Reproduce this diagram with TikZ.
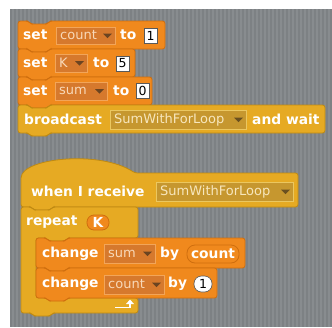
\documentclass[tikz,border=0pt]{standalone}
\usepackage{fontspec}
\setmainfont{DejaVu Sans}
\usetikzlibrary{calc}
\definecolor{bg}{HTML}{888C8F}
\definecolor{stripe}{HTML}{7D8184}
\definecolor{org}{HTML}{F0891D}
\definecolor{orgD}{HTML}{CF6E0E}
\definecolor{orgF}{HTML}{D6792D}
\definecolor{orgL}{HTML}{F2A559}
\definecolor{orgT}{HTML}{F8D8B8}
\definecolor{orgA}{HTML}{6B4421}
\definecolor{yel}{HTML}{E6AA23}
\definecolor{yelD}{HTML}{BF8A12}
\definecolor{yelF}{HTML}{C6972F}
\definecolor{yelL}{HTML}{EBC760}
\definecolor{yelT}{HTML}{F7E6BC}
\definecolor{yelA}{HTML}{6A5020}
\tikzset{
  oblk/.style={fill=org, draw=orgD, line width=0.8pt, rounded corners=2.5pt},
  yblk/.style={fill=yel, draw=yelD, line width=0.8pt, rounded corners=2.5pt},
  lbl/.style={font=\fontsize{13.8}{15}\selectfont\bfseries, text=white, inner sep=0pt, anchor=west},
  oddbox/.style={fill=orgF, draw=orgL, line width=0.8pt},
  yddbox/.style={fill=yelF, draw=yelL, line width=0.8pt},
  oddtxt/.style={font=\fontsize{13}{14}\selectfont, text=orgT, inner sep=0pt, anchor=west},
  yddtxt/.style={font=\fontsize{13}{14}\selectfont, text=yelT, inner sep=0pt, anchor=west},
  oddarr/.style={fill=orgA},
  yddarr/.style={fill=yelA},
  numbox/.style={fill=white, draw=black!65, line width=0.6pt, inner sep=0pt, font=\fontsize{12.5}{14}\selectfont, text=black},
  orep/.style={fill=org, draw=orgD, line width=0.8pt, inner sep=0pt, font=\fontsize{13.8}{15}\selectfont\bfseries, text=white},
}
% command block: x0 y0 x1 y1 style
\newcommand\cmdblk[5]{%
  \draw[#5] (#1,#2) -- ({#1+10},#2) -- ({#1+13},{#2+3}) -- ({#1+29},{#2+3}) -- ({#1+32},#2) -- (#3,#2) -- (#3,#4)
    -- ({#1+32},#4) -- ({#1+29},{#4+3}) -- ({#1+13},{#4+3}) -- ({#1+10},#4) -- (#1,#4) -- cycle;}
% dropdown: name x0 y0 x1 y1 text prefix(odd/ydd)
\newcommand\ddown[7]{%
  \draw[#7box] (#2,#3) rectangle (#4,#5);
  \node[#7txt] (#1) at ({#2+4},{(#3+#5)/2}) {#6};
  \fill[#7arr] ({#4-12},{(#3+#5)/2-2}) -- ({#4-3},{(#3+#5)/2-2}) -- ({#4-7.5},{(#3+#5)/2+2.5}) -- cycle;}
\begin{document}
\begin{tikzpicture}[x=1pt,y=-1pt]
\useasboundingbox (0,0) rectangle (332,327);
\fill[white] (0,0) rectangle (332,327);
\fill[bg] (10,9) rectangle (332,327);
\begin{scope}
\clip (10,9) rectangle (332,327);
\foreach \i in {0,...,80} \draw[stripe, line width=1.1pt] ({11+4*\i},9) -- ({11+4*\i},327);
\end{scope}

% ---- set count to 1
\cmdblk{18}{21}{165}{49}{oblk}
\node[lbl] (s1) at (23,35) {set};
\ddown{d1}{56}{27}{115}{44}{count}{odd}
\node[lbl] (t1) at (120,35) {to};
\node[numbox, minimum width=13pt, minimum height=15pt] (n1) at (150.5,35.5) {1};

% ---- set K to 5
\cmdblk{18}{49}{135}{77}{oblk}
\node[lbl] (s2) at (23,63) {set};
\ddown{d2}{55}{54}{87}{72}{K}{odd}
\node[lbl] (t2) at (93,63) {to};
\node[numbox, minimum width=13pt, minimum height=15pt] (n2) at (122.5,63.5) {5};

% ---- set sum to 0
\cmdblk{18}{77}{152}{105}{oblk}
\node[lbl] (s3) at (23,91) {set};
\ddown{d3}{55}{82}{107}{100}{sum}{odd}
\node[lbl] (t3) at (113,91) {to};
\node[numbox, minimum width=13pt, minimum height=15pt] (n3) at (142.5,91) {0};

% ---- broadcast and wait
\cmdblk{18}{105}{325}{133}{yblk}
\node[lbl] (b1) at (24,119) {broadcast};
\ddown{d4}{110}{110}{246}{129}{SumWithForLoop}{ydd}
\node[lbl] (b2) at (252,119) {and wait};

% ---- hat: when I receive
\draw[yblk] (21,207) -- (21,180) .. controls (22,158) and (100,150) .. (135,173) -- (298,173) -- (298,207)
  -- (53,207) -- (50,210) -- (34,210) -- (31,207) -- cycle;
\node[lbl] (h1) at (31,191) {when I receive};
\ddown{d5}{156}{182}{293}{201}{SumWithForLoop}{ydd}

% ---- repeat C block
\draw[yblk] (21,207) -- (31,207) -- (34,210) -- (50,210) -- (53,207) -- (138,207) -- (138,238)
  -- (68,238) -- (65,241) -- (49,241) -- (46,238) -- (36,238) -- (36,298) -- (138,298) -- (138,313)
  -- (53,313) -- (50,316) -- (34,316) -- (31,313) -- (21,313) -- cycle;
\node[lbl] (r1) at (26,222) {repeat};
\node[orep, minimum width=22pt, minimum height=15pt, rounded corners=7pt] (rk) at (98,222.5) {K};
\draw[white, line width=1.8pt] (115,307.5) -- (130,307.5) -- (130,303);
\fill[white] (126,304) -- (134,304) -- (130,299.5) -- cycle;

% ---- change sum by count
\cmdblk{36}{238}{245}{268}{oblk}
\node[lbl] (c1) at (42,253.5) {change};
\ddown{d6}{104}{244}{155}{263}{sum}{odd}
\node[lbl] (y1) at (160,253.5) {by};
\node[orep, minimum width=52pt, minimum height=18pt, rounded corners=8pt] (rc) at (213,254) {count};

% ---- change count by 1
\cmdblk{36}{268}{217}{298}{oblk}
\node[lbl] (c2) at (42,284) {change};
\ddown{d7}{104}{275}{164}{294}{count}{odd}
\node[lbl] (y2) at (168,284) {by};
\node[numbox, minimum width=18pt, minimum height=16pt, rounded corners=7.5pt] (n4) at (203,284) {1};
\end{tikzpicture}
\end{document}
